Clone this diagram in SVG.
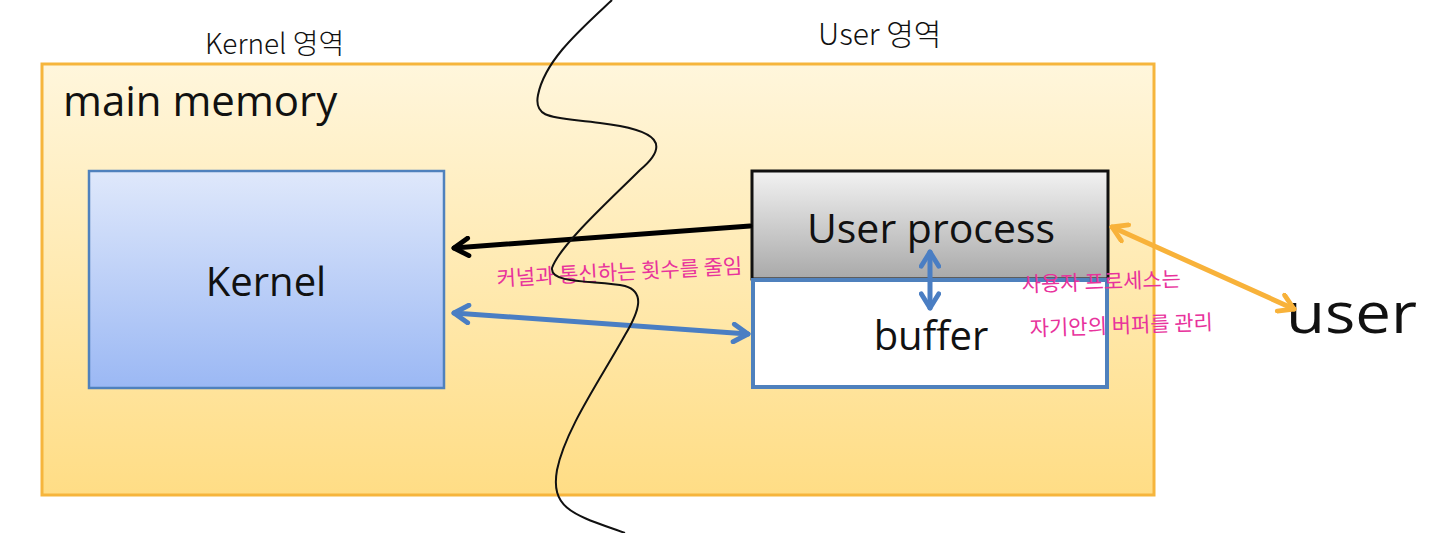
<svg xmlns="http://www.w3.org/2000/svg" width="1440" height="533" viewBox="0 0 1440 533">
<defs>
<linearGradient id="gMem" x1="0" y1="0" x2="0" y2="1"><stop offset="0" stop-color="#FFF6DC"/><stop offset="1" stop-color="#FFDD85"/></linearGradient>
<linearGradient id="gKer" x1="0" y1="0" x2="0" y2="1"><stop offset="0" stop-color="#DFE8FB"/><stop offset="1" stop-color="#9BB8F4"/></linearGradient>
<linearGradient id="gUp" x1="0" y1="0" x2="0" y2="1"><stop offset="0" stop-color="#F2F2F2"/><stop offset="1" stop-color="#A9A9A9"/></linearGradient>
<marker id="aBlk" viewBox="0 0 10 10" refX="8.5" refY="5" markerWidth="4.4" markerHeight="4.4" orient="auto-start-reverse" markerUnits="strokeWidth"><path d="M2,1 L8.5,5 L2,9" fill="none" stroke="#000" stroke-width="2.2" stroke-linecap="round" stroke-linejoin="round"/></marker>
<marker id="aBlu" viewBox="0 0 10 10" refX="8.5" refY="5" markerWidth="4.4" markerHeight="4.4" orient="auto-start-reverse" markerUnits="strokeWidth"><path d="M2,1 L8.5,5 L2,9" fill="none" stroke="#4A7EC3" stroke-width="2.2" stroke-linecap="round" stroke-linejoin="round"/></marker>
<marker id="aOr" viewBox="0 0 10 10" refX="8.5" refY="5" markerWidth="4.4" markerHeight="4.4" orient="auto-start-reverse" markerUnits="strokeWidth"><path d="M2,1 L8.5,5 L2,9" fill="none" stroke="#F8B23A" stroke-width="2.2" stroke-linecap="round" stroke-linejoin="round"/></marker>
</defs>
<style>
.lbl{font-family:"Open Sans","Noto Sans",sans-serif;fill:#111}
.hand{font-family:"Noto Sans CJK KR",sans-serif;fill:#111}
.pink{font-family:"Noto Sans CJK KR",sans-serif;fill:#E8329C;font-size:21px}
</style>
<rect width="1440" height="533" fill="#fff"/>
<g id="main-memory">
<rect x="42" y="64" width="1112" height="431" fill="url(#gMem)" stroke="#F6B53C" stroke-width="3"/>
<text class="lbl" x="63" y="116" font-size="42" fill="#222">main memory</text>
</g>
<g id="area-labels">
<text class="hand" x="205" y="54" font-size="28" font-weight="300">Kernel 영역</text>
<text class="hand" x="818" y="45" font-size="30" font-weight="300">User 영역</text>
</g>
<g id="kernel">
<rect x="89" y="171" width="355" height="217" fill="url(#gKer)" stroke="#4F81BD" stroke-width="2.5"/>
<text class="lbl" x="266" y="296" font-size="40" text-anchor="middle">Kernel</text>
</g>
<g id="user-process">
<rect x="752" y="171" width="356" height="108" fill="url(#gUp)" stroke="#111" stroke-width="3"/>
<text class="lbl" x="931" y="243" font-size="41" text-anchor="middle">User process</text>
</g>
<g id="buffer">
<rect x="753" y="280" width="354" height="107" fill="#fff" stroke="#4F81BD" stroke-width="4"/>
<text class="lbl" x="931" y="350" font-size="40" text-anchor="middle">buffer</text>
</g>
<g id="user">
<text class="lbl" x="1286" y="333" font-size="56" textLength="131" lengthAdjust="spacingAndGlyphs">user</text>
</g>
<g id="connectors" fill="none" stroke-linecap="round">
<line x1="750" y1="226" x2="454" y2="248" stroke="#000" stroke-width="5" marker-end="url(#aBlk)"/>
<line x1="454" y1="313" x2="748" y2="334" stroke="#4A7EC3" stroke-width="5" marker-start="url(#aBlu)" marker-end="url(#aBlu)"/>
<line x1="930" y1="252" x2="930" y2="308" stroke="#4A7EC3" stroke-width="5" marker-start="url(#aBlu)" marker-end="url(#aBlu)"/>
<line x1="1112" y1="227" x2="1294" y2="309" stroke="#F8B23A" stroke-width="5" marker-start="url(#aOr)" marker-end="url(#aOr)"/>
</g>
<g id="annotations">
<text class="pink" x="497" y="286" transform="rotate(-3 497 286)">커널과  통신하는  횟수를 줄임</text>
<text class="pink" x="1022" y="292" transform="rotate(-2 1022 292)">사용자  프로세스는</text>
<text class="pink" x="1030" y="336" transform="rotate(-2 1030 336)">자기안의  버퍼를 관리</text>
</g>
<g id="divider">
<path d="M612,0 C580,30 545,60 538,95 C533,120 555,117 600,123 C660,130 670,145 640,170 C610,200 560,245 552,268 C550,285 600,280 625,286 C645,292 640,310 625,335 C600,380 565,430 557,470 C550,510 575,515 625,533" fill="none" stroke="#111" stroke-width="2"/>
</g>
</svg>
